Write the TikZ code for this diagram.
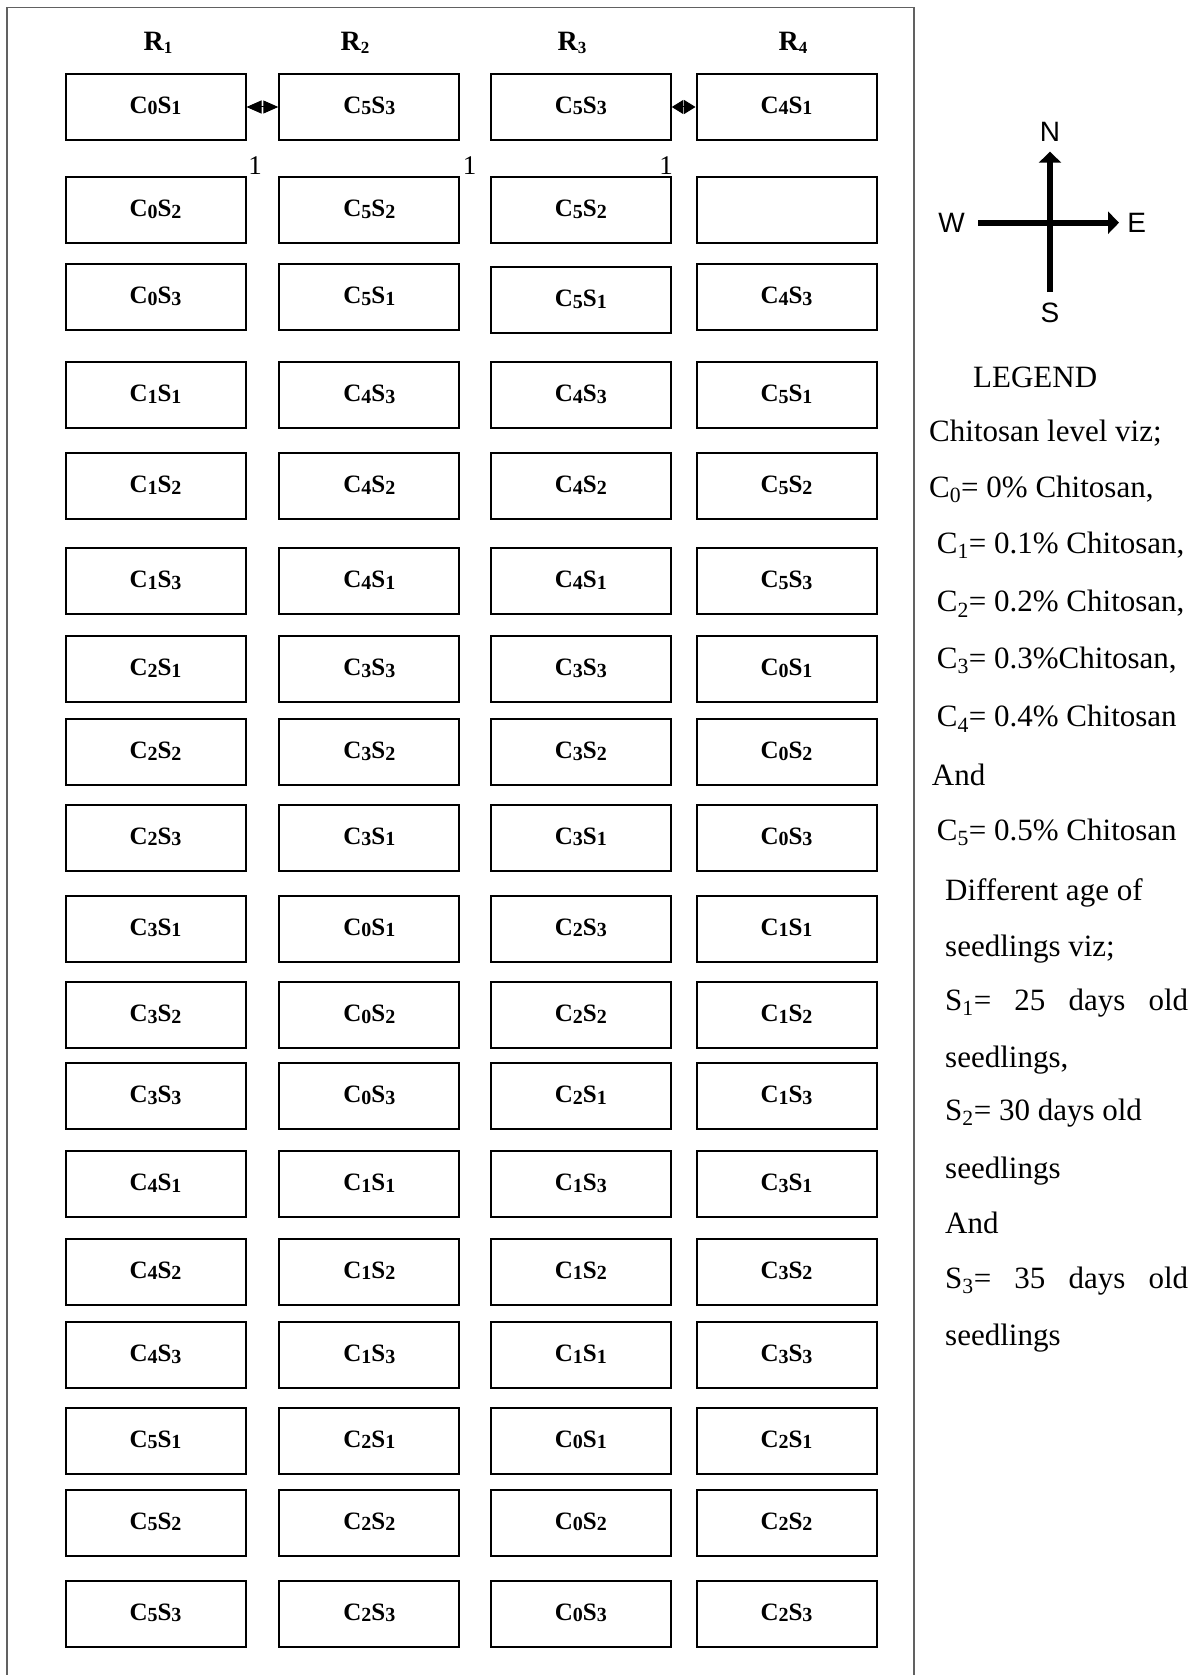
\documentclass[tikz,border=0pt]{standalone}
\usepackage{fontspec}
\setmainfont{Liberation Serif}
\newfontfamily\compassfont{Liberation Sans}
\usetikzlibrary{arrows.meta}
\newcommand\bsub[1]{\raisebox{-1.5pt}{\fontsize{20}{20}\selectfont #1}}
\newcommand\hsub[1]{\raisebox{-3pt}{\fontsize{17}{17}\selectfont #1}}
\newcommand\CS[2]{C\bsub{#1}S\bsub{#2}}
\begin{document}
\begin{tikzpicture}[x=1pt,y=-1pt,
  plotbox/.style={draw, line width=2pt, minimum width=180pt, minimum height=66pt, inner sep=0pt,
     text height=15pt, text depth=2pt, font=\fontsize{25}{28}\selectfont\bfseries},
  hdr/.style={anchor=base, inner sep=0pt, font=\fontsize{28}{30}\selectfont\bfseries},
  lgd/.style={anchor=base west, inner sep=0pt, font=\fontsize{31}{34}\selectfont},
  numlbl/.style={inner sep=0pt, font=\fontsize{27}{28}\selectfont},
  dirlbl/.style={inner sep=0pt, font=\compassfont\fontsize{28}{30}\selectfont},
  compassline/.style={line width=6pt},
  link/.style={line width=1pt}]
\useasboundingbox (0,0) rectangle (1201,1675);
\fill[white] (0,0) rectangle (1201,1675);
% frame
\draw[black!62, line width=1.5pt] (7,1675) -- (7,7.3) -- (914,7.3) -- (914,1675);
% headers
\node[hdr] (R1) at (158,50.5) {R\hsub{1}};
\node[hdr] (R2) at (355,50.5) {R\hsub{2}};
\node[hdr] (R3) at (572,50.5) {R\hsub{3}};
\node[hdr] (R4) at (793,50.5) {R\hsub{4}};
% plots
\foreach \r/\y/\yc/\a/\b/\c/\d in {
  1/107/107/\CS01/\CS53/\CS53/\CS41,
  2/210.3/210.3/\CS02/\CS52/\CS52/{},
  3/297/300/\CS03/\CS51/\CS51/\CS43,
  4/395.3/395.3/\CS11/\CS43/\CS43/\CS51,
  5/486/486/\CS12/\CS42/\CS42/\CS52,
  6/581/581/\CS13/\CS41/\CS41/\CS53,
  7/669/669/\CS21/\CS33/\CS33/\CS01,
  8/752.3/752.3/\CS22/\CS32/\CS32/\CS02,
  9/837.7/837.7/\CS23/\CS31/\CS31/\CS03,
  10/928.5/928.5/\CS31/\CS01/\CS23/\CS11,
  11/1015/1015/\CS32/\CS02/\CS22/\CS12,
  12/1096/1096/\CS33/\CS03/\CS21/\CS13,
  13/1184/1184/\CS41/\CS11/\CS13/\CS31,
  14/1271.5/1271.5/\CS42/\CS12/\CS12/\CS32,
  15/1355/1355/\CS43/\CS13/\CS11/\CS33,
  16/1440.5/1440.5/\CS51/\CS21/\CS01/\CS21,
  17/1522.5/1522.5/\CS52/\CS22/\CS02/\CS22,
  18/1613.5/1613.5/\CS53/\CS23/\CS03/\CS23} {
  \node[plotbox] (b\r-1) at (155.5,\y) {\a};
  \node[plotbox] (b\r-2) at (369.3,\y) {\b};
  \node[plotbox] (b\r-3) at (580.8,\yc) {\c};
  \node[plotbox] (b\r-4) at (786.5,\y) {\d};
}
% small double arrows
\draw[link, {Triangle[length=15pt,width=13pt]}-{Triangle[length=15pt,width=13pt]}] (b1-1.east) -- (b1-2.west);
\draw[link, {Triangle[length=11.5pt,width=14pt]}-{Triangle[length=11.5pt,width=14pt]}] (b1-3.east) -- (b1-4.west);
% stray numerals
\node[numlbl] (n1) at (255,166) {1};
\node[numlbl] (n2) at (469.5,166) {1};
\node[numlbl] (n3) at (666,166) {1};
% compass
\coordinate (cN) at (1050,151.7);
\coordinate (cS) at (1050,292);
\coordinate (cW) at (978,222.7);
\coordinate (cE) at (1119,222.7);
\draw[compassline, -{Triangle[length=11pt,width=22pt]}] (cS) -- (cN);
\draw[compassline, -{Triangle[length=11pt,width=22pt]}] (cW) -- (cE);
\node[dirlbl] (dN) at (1050,131.7) {N};
\node[dirlbl] (dS) at (1050,313) {S};
\node[dirlbl] (dW) at (951.7,222.7) {W};
\node[dirlbl] (dE) at (1136.7,222.7) {E};
% legend
\node[lgd] (l0) at (973,387) {LEGEND};
\node[lgd] (l1) at (929,441) {Chitosan level viz;};
\node[lgd] (l2) at (929,497) {C\textsubscript{0}= 0\% Chitosan,};
\node[lgd] (l3) at (936.7,553) {C\textsubscript{1}= 0.1\% Chitosan,};
\node[lgd] (l4) at (936.7,611.7) {C\textsubscript{2}= 0.2\% Chitosan,};
\node[lgd] (l5) at (936.7,668) {C\textsubscript{3}= 0.3\%Chitosan,};
\node[lgd] (l6) at (936.7,726.7) {C\textsubscript{4}= 0.4\% Chitosan};
\node[lgd] (l7) at (931.7,785) {And};
\node[lgd] (l8) at (936.7,840) {C\textsubscript{5}= 0.5\% Chitosan};
\node[lgd] (l9) at (945,900) {Different age of};
\node[lgd] (l10) at (945,956) {seedlings viz;};
\node[lgd] (l11) at (945,1010) {\hbox to 243pt{S\textsubscript{1}=\hfill 25\hfill days\hfill old}};
\node[lgd] (l12) at (945,1067) {seedlings,};
\node[lgd] (l13) at (945,1120) {S\textsubscript{2}= 30 days old};
\node[lgd] (l14) at (945,1178) {seedlings};
\node[lgd] (l15) at (945,1233) {And};
\node[lgd] (l16) at (945,1288) {\hbox to 243pt{S\textsubscript{3}=\hfill 35\hfill days\hfill old}};
\node[lgd] (l17) at (945,1345) {seedlings};
\end{tikzpicture}
\end{document}
